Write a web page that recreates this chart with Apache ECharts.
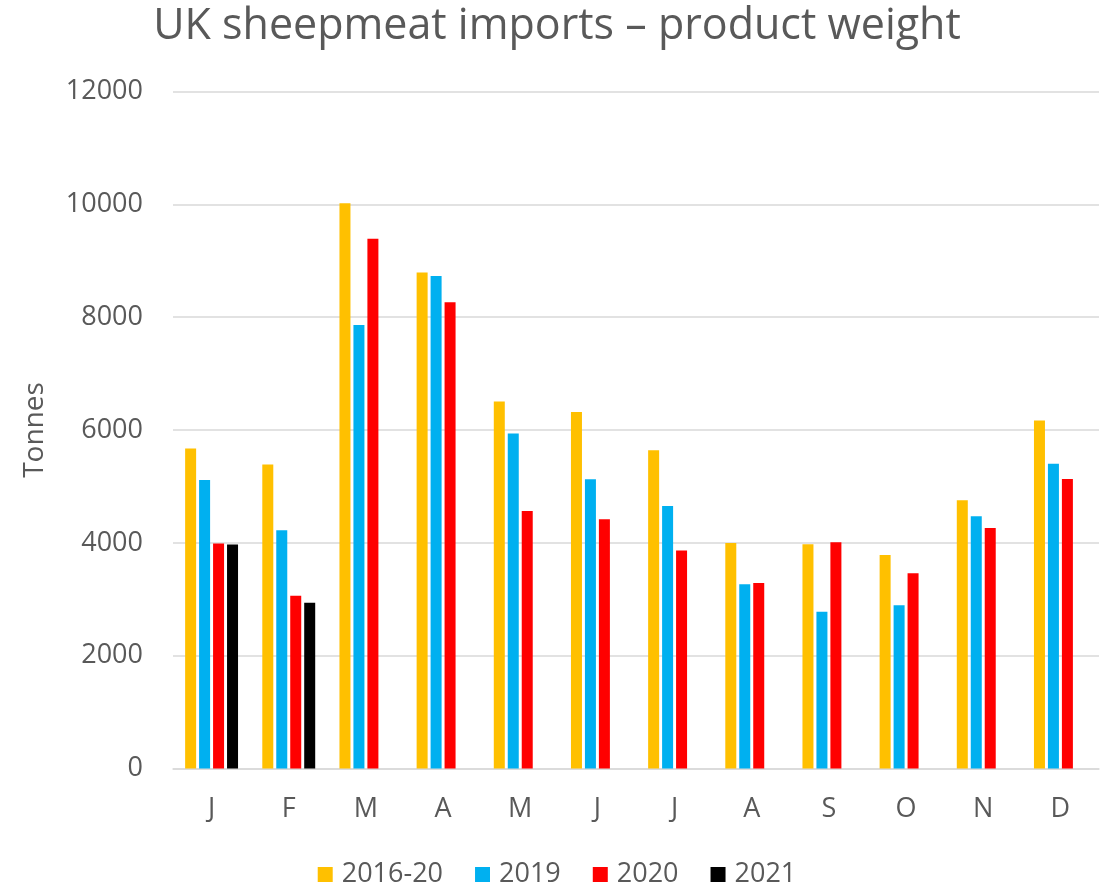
<!DOCTYPE html>
<html>
<head>
<meta charset="utf-8">
<script src="https://cdn.jsdelivr.net/npm/echarts@6/dist/echarts.min.js"></script>
<style>
  html, body { margin: 0; padding: 0; background: #ffffff; }
  #chart { width: 1114px; height: 886px; }
</style>
</head>
<body>
<div id="chart"></div>
<script>
// Monthly UK sheepmeat imports, product weight (tonnes)
const months = ['J', 'F', 'M', 'A', 'M', 'J', 'J', 'A', 'S', 'O', 'N', 'D'];
const avg2016to20 = [5670, 5390, 10020, 8790, 6505, 6320, 5640, 3995, 3975, 3785, 4755, 6170];
const y2019 = [5115, 4225, 7860, 8730, 5940, 5125, 4655, 3265, 2780, 2895, 4470, 5400];
const y2020 = [3990, 3060, 9390, 8265, 4565, 4420, 3865, 3290, 4010, 3460, 4265, 5130];
const y2021 = [3970, 2940, null, null, null, null, null, null, null, null, null, null];
const seriesNames = ['2016-20', '2019', '2020', '2021'];
const seriesColors = ['#FFC000', '#00B0F0', '#FF0000', '#000000'];

const FONT = '"Open Sans", "Noto Sans", sans-serif';
const TEXT = '#595959';

const chart = echarts.init(document.getElementById('chart'), null, { renderer: 'canvas' });

const dataSets = [avg2016to20, y2019, y2020, y2021];
const series = dataSets.map((d, i) => ({
  name: seriesNames[i],
  type: 'bar',
  data: d,
  barWidth: 11,
  barGap: '27%',
  itemStyle: { color: seriesColors[i] },
  emphasis: { disabled: true }
}));

chart.setOption({
  animation: false,
  backgroundColor: '#ffffff',
  title: {
    text: 'UK sheepmeat imports \u2013 product weight',
    left: 'center',
    top: 0,
    textStyle: { fontFamily: FONT, fontSize: 43, fontWeight: 'normal', color: TEXT }
  },
  legend: {
    top: 856,
    left: 'center',
    itemWidth: 15,
    itemHeight: 15,
    itemGap: 32,
    icon: 'rect',
    textStyle: { fontFamily: FONT, fontSize: 27, color: TEXT, padding: [0, 0, 0, 4] },
    data: seriesNames
  },
  grid: { left: 173, right: 15, top: 91.5, bottom: 117.5, containLabel: false },
  xAxis: {
    type: 'category',
    data: months,
    axisLine: { lineStyle: { color: '#D9D9D9', width: 1.5 } },
    axisTick: { show: false },
    axisLabel: { fontFamily: FONT, fontSize: 27, color: TEXT, margin: 27 }
  },
  yAxis: {
    type: 'value',
    min: 0,
    max: 12000,
    interval: 2000,
    name: 'Tonnes',
    nameLocation: 'middle',
    nameGap: 124,
    nameRotate: 90,
    nameTextStyle: { fontFamily: FONT, fontSize: 28, color: TEXT },
    axisLine: { show: false },
    axisTick: { show: false },
    axisLabel: { fontFamily: FONT, fontSize: 27, color: TEXT, margin: 30, formatter: v => String(v) },
    splitLine: { lineStyle: { color: '#D9D9D9', width: 1.5 } }
  },
  series: series
});
</script>
</body>
</html>
